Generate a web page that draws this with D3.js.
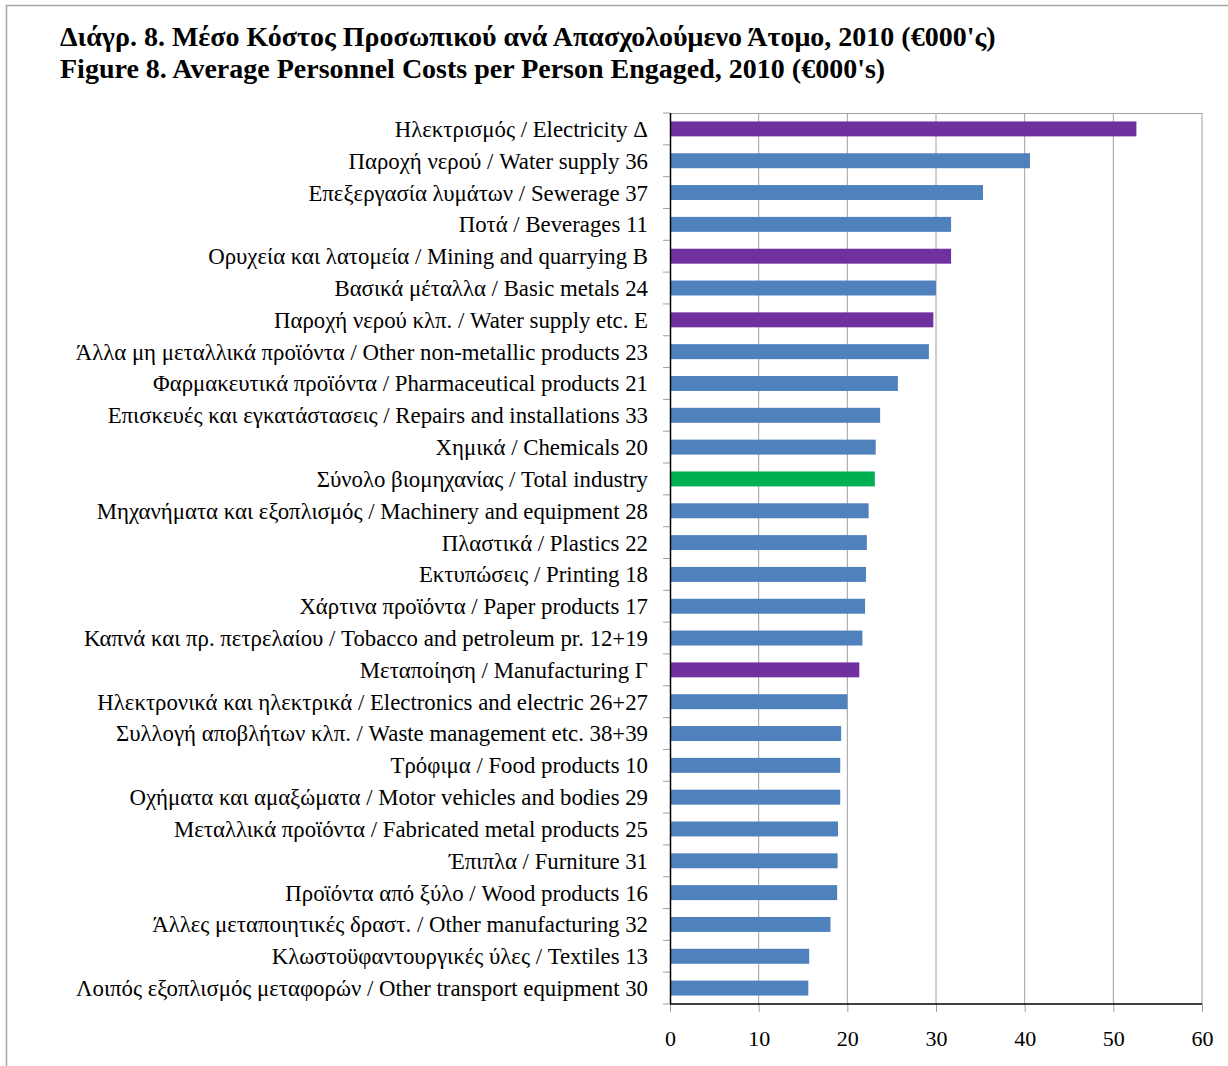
<!DOCTYPE html>
<html>
<head>
<meta charset="utf-8">
<script src="https://cdn.jsdelivr.net/npm/d3@7"></script>
<style>
	body { margin: 0; background: #fff; }
	text { font-family: "Liberation Serif", "Times New Roman", serif; }
</style>
</head>
<body>
<div id="chart-area"></div>
<script>
var categories = [
	"Ηλεκτρισμός / Electricity Δ",
	"Παροχή νερού / Water supply 36",
	"Επεξεργασία λυμάτων / Sewerage 37",
	"Ποτά / Beverages 11",
	"Ορυχεία και λατομεία / Mining and quarrying B",
	"Βασικά μέταλλα / Basic metals 24",
	"Παροχή νερού κλπ. / Water supply etc. E",
	"Άλλα μη μεταλλικά προϊόντα / Other non-metallic products 23",
	"Φαρμακευτικά προϊόντα / Pharmaceutical products 21",
	"Επισκευές και εγκατάστασεις / Repairs and installations 33",
	"Χημικά / Chemicals 20",
	"Σύνολο βιομηχανίας / Total industry",
	"Μηχανήματα και εξοπλισμός / Machinery and equipment 28",
	"Πλαστικά / Plastics 22",
	"Εκτυπώσεις / Printing 18",
	"Χάρτινα προϊόντα / Paper products 17",
	"Καπνά και πρ. πετρελαίου / Tobacco and petroleum pr. 12+19",
	"Μεταποίηση / Manufacturing Γ",
	"Ηλεκτρονικά και ηλεκτρικά / Electronics and electric 26+27",
	"Συλλογή αποβλήτων κλπ. / Waste management etc. 38+39",
	"Τρόφιμα / Food products 10",
	"Οχήματα και αμαξώματα / Motor vehicles and bodies 29",
	"Μεταλλικά προϊόντα / Fabricated metal products 25",
	"Έπιπλα / Furniture 31",
	"Προϊόντα από ξύλο / Wood products 16",
	"Άλλες μεταποιητικές δραστ. / Other manufacturing 32",
	"Κλωστοϋφαντουργικές ύλες / Textiles 13",
	"Λοιπός εξοπλισμός μεταφορών / Other transport equipment 30"
];

var values = [52.6, 40.6, 35.3, 31.7, 31.7, 30.0, 29.7, 29.2, 25.7, 23.7, 23.2, 23.1,
	22.4, 22.2, 22.1, 22.0, 21.7, 21.35, 20.0, 19.3, 19.2, 19.2, 18.95, 18.9, 18.85,
	18.1, 15.7, 15.6];

// "section" = NACE section, "total" = total industry, otherwise a division
var groups = ["section", "division", "division", "division", "section", "division", "section",
	"division", "division", "division", "division", "total", "division", "division", "division",
	"division", "division", "section", "division", "division", "division", "division", "division",
	"division", "division", "division", "division", "division"];

var xTicks = [0, 10, 20, 30, 40, 50, 60];

var titleLines = [
	"Διάγρ. 8. Μέσο Κόστος Προσωπικού ανά Απασχολούμενο Άτομο, 2010 (€000'ς)",
	"Figure 8. Average Personnel Costs per Person Engaged, 2010 (€000's)"
];

var width = 1228;
var height = 1066;
var margin = { top: 113, right: 26, bottom: 62, left: 670 };
var chartWidth = width - margin.left - margin.right;
var chartHeight = height - margin.top - margin.bottom;

var color = d3.scaleOrdinal()
	.domain(["division", "section", "total"])
	.range(["#4f81bd", "#7030a0", "#00b050"]);

var svg = d3.select("#chart-area")
	.append("svg")
	.attr("width", width)
	.attr("height", height);

// outer frame (top + left edges only)
svg.append("line")
	.attr("x1", 6).attr("x2", width).attr("y1", 5.5).attr("y2", 5.5)
	.attr("stroke", "#a6a6a6").attr("stroke-width", 1.5);
svg.append("line")
	.attr("x1", 6.5).attr("x2", 6.5).attr("y1", 5).attr("y2", height)
	.attr("stroke", "#a6a6a6").attr("stroke-width", 1.5);

svg.selectAll(".title")
	.data(titleLines)
	.enter().append("text")
	.attr("class", "title")
	.attr("x", 60)
	.attr("y", (d, i) => 46 + i * 32)
	.attr("font-size", "28px")
	.attr("font-weight", "bold")
	.attr("fill", "#000")
	.text(d => d);

var g = svg.append("g")
	.attr("transform", "translate(" + margin.left + ", " + margin.top + ")");

var xScale = d3.scaleLinear()
	.domain([0, 60])
	.range([0, chartWidth]);

var yScale = d3.scaleBand()
	.domain(categories)
	.range([0, chartHeight])
	.paddingInner(0.53)
	.paddingOuter(0.265);

var bandStep = chartHeight / categories.length;

// gridlines
g.selectAll(".grid")
	.data(xTicks.slice(1))
	.enter().append("line")
	.attr("class", "grid")
	.attr("x1", d => xScale(d)).attr("x2", d => xScale(d))
	.attr("y1", 0).attr("y2", chartHeight)
	.attr("stroke", "#a0a0a0")
	.attr("stroke-width", 1);

// plot area top border
g.append("line")
	.attr("x1", 0).attr("x2", chartWidth).attr("y1", 0.5).attr("y2", 0.5)
	.attr("stroke", "#a0a0a0");

// category separator ticks
g.selectAll(".ytick")
	.data(d3.range(categories.length + 1))
	.enter().append("line")
	.attr("class", "ytick")
	.attr("x1", -7).attr("x2", 0)
	.attr("y1", d => d * bandStep).attr("y2", d => d * bandStep)
	.attr("stroke", "#a0a0a0");

// bars
g.selectAll(".bar")
	.data(values)
	.enter().append("rect")
	.attr("class", "bar")
	.attr("x", 0)
	.attr("y", (d, i) => yScale(categories[i]))
	.attr("width", d => xScale(d))
	.attr("height", yScale.bandwidth())
	.attr("fill", (d, i) => color(groups[i]));

// category labels
g.selectAll(".cat")
	.data(categories)
	.enter().append("text")
	.attr("class", "cat")
	.attr("x", -22)
	.attr("y", d => yScale(d) + yScale.bandwidth() / 2)
	.attr("dy", "0.35em")
	.attr("text-anchor", "end")
	.attr("font-size", "22.8px")
	.attr("fill", "#000")
	.text(d => d);

// x axis
var xAxis = d3.axisBottom(xScale)
	.tickValues(xTicks)
	.tickSize(8)
	.tickPadding(18);

var xAxisG = g.append("g")
	.attr("transform", "translate(0," + chartHeight + ")")
	.call(xAxis);

xAxisG.select(".domain").remove();
xAxisG.selectAll(".tick line").attr("stroke", "#a0a0a0");
xAxisG.selectAll(".tick text")
	.attr("font-size", "22px")
	.attr("font-family", "Liberation Serif, Times New Roman, serif")
	.attr("fill", "#000");

// axis lines
g.append("line")
	.attr("x1", 0).attr("x2", chartWidth).attr("y1", chartHeight).attr("y2", chartHeight)
	.attr("stroke", "#000").attr("stroke-width", 1.5);
g.append("line")
	.attr("x1", 0.5).attr("x2", 0.5).attr("y1", 0).attr("y2", chartHeight)
	.attr("stroke", "#000").attr("stroke-width", 1.5);
</script>
</body>
</html>
